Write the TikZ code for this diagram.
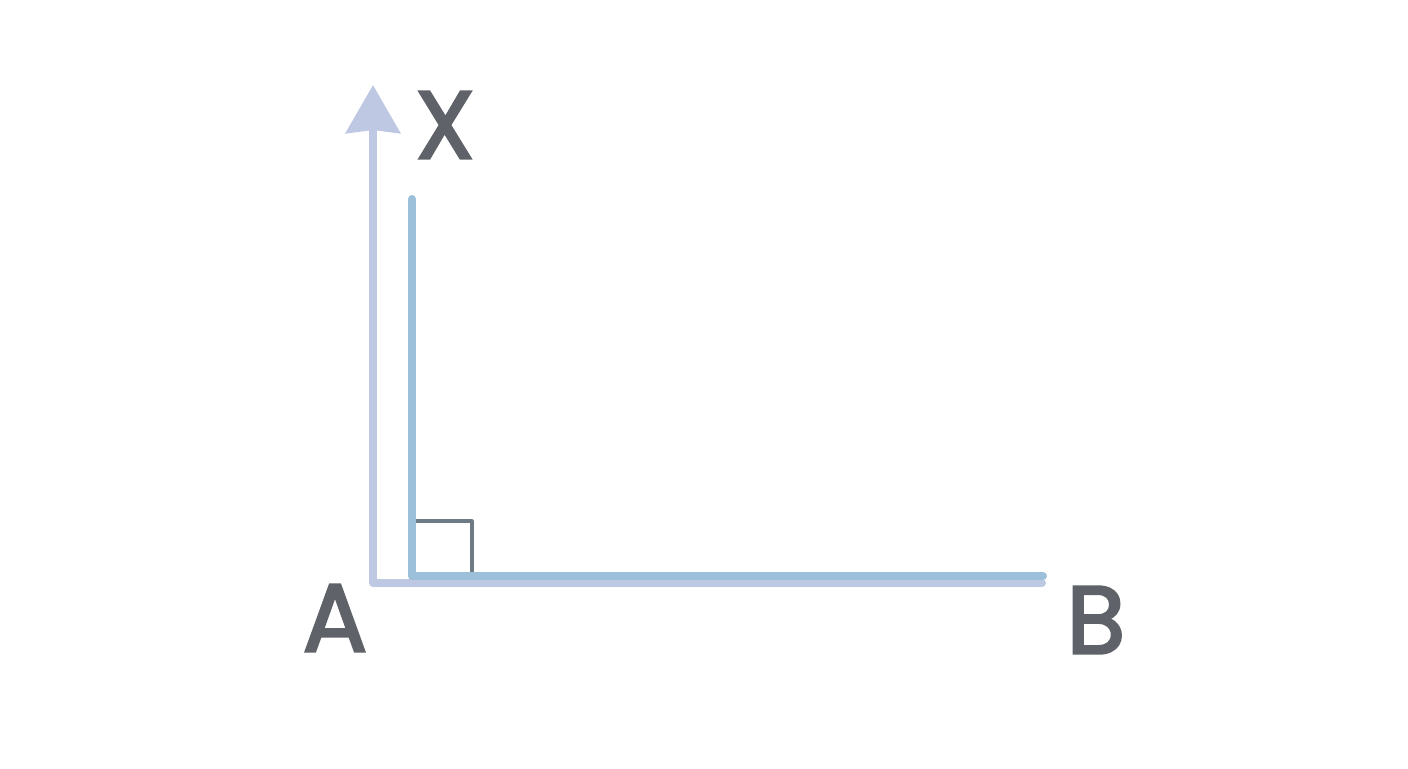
\documentclass[tikz,border=0pt]{standalone}
\usepackage{fontspec}
\newfontfamily\labelfont{Poppins}[FakeBold=2.6]
\usetikzlibrary{arrows.meta}

\definecolor{lavender}{RGB}{191,200,226}
\definecolor{steelblue}{RGB}{157,192,218}
\definecolor{markgray}{RGB}{110,122,132}
\definecolor{labelgray}{RGB}{95,98,104}

\tikzset{
  rayline/.style={draw=lavender, line width=4pt, line join=round, line cap=round},
  perpline/.style={draw=steelblue, line width=4pt, line join=round, line cap=round},
  anglemark/.style={draw=markgray, line width=1.6pt, line join=round},
  ptlabel/.style={text=labelgray, inner sep=0pt, font=\labelfont\fontsize{48}{56}\selectfont}
}

\begin{document}
\begin{tikzpicture}[x=0.5pt,y=0.5pt,yscale=-1,xscale=1]
        \useasboundingbox (0,0) rectangle (1408,768);

        % Corners and ends
        \coordinate (A0) at (373,583);
        \coordinate (Xtip) at (373,85);
        \coordinate (B0) at (1042,583);
        \coordinate (P0) at (412,576);
        \coordinate (Ptop) at (412,199);
        \coordinate (Pend) at (1043,576);
        \coordinate (M1) at (412,521);
        \coordinate (M2) at (472,521);
        \coordinate (M3) at (472,576);

        % Ray with arrow
        \draw [rayline] (B0) -- (A0) -- (Xtip) [-{Stealth[length=24pt,width=27pt,inset=1.5pt]}];
        % Right angle mark
        \draw [anglemark] (M1) -- (M2) -- (M3);
        % Perpendicular
        \draw [perpline] (Ptop) -- (P0) -- (Pend);

        % Text Node
        \node [ptlabel] (labX) at (445,125) {X};
        % Text Node
        \node [ptlabel] (labA) at (335,618) {A};
        % Text Node
        \node [ptlabel] (labB) at (1096,620) {B};
\end{tikzpicture}
\end{document}
